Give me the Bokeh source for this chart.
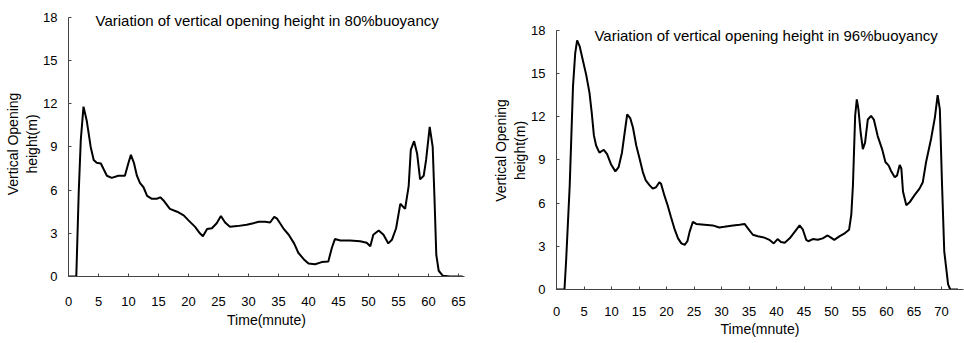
from bokeh.plotting import figure
from bokeh.layouts import row
from bokeh.models import Range1d, SingleIntervalTicker, Label
from bokeh.embed import file_html
from bokeh.resources import INLINE

# ---- data: 80% buoyancy ----
t80 = [0.0, 0.3, 1.3, 1.7, 2.05, 2.5, 3.05, 3.7, 4.2, 4.7, 5.4, 5.8, 6.4, 7.2, 8.3, 9.4,
       10.0, 10.4, 10.9, 11.4, 11.9, 12.5, 13.1, 13.9, 14.7, 15.3, 15.8, 16.9, 18.1, 19.2,
       20.0, 21.1, 21.9, 22.4, 23.1, 23.9, 24.7, 25.4, 26.1, 26.9, 28.1, 29.7, 30.8, 31.7,
       32.8, 33.6, 34.3, 34.8, 35.8, 36.7, 37.6, 38.3, 39.2, 40.0, 41.1, 42.2, 43.3, 43.9,
       44.4, 45.3, 46.9, 48.6, 49.7, 50.3, 50.8, 51.7, 52.5, 53.3, 53.9, 54.6, 55.3, 56.1,
       56.7, 57.05, 57.6, 58.1, 58.6, 59.2, 59.6, 60.2, 60.7, 61.0, 61.3, 61.7, 62.4, 63.6, 65.7]
h80 = [0.0, 0.0, 0.0, 5.8, 9.5, 11.8, 10.8, 9.0, 8.1, 7.9, 7.85, 7.5, 7.0, 6.85, 7.0, 7.0,
       7.9, 8.45, 7.9, 7.0, 6.5, 6.2, 5.6, 5.4, 5.4, 5.5, 5.3, 4.7, 4.5, 4.25,
       3.9, 3.45, 3.0, 2.8, 3.3, 3.35, 3.7, 4.2, 3.75, 3.45, 3.5, 3.6, 3.7, 3.8,
       3.8, 3.75, 4.15, 4.0, 3.35, 2.9, 2.3, 1.65, 1.2, 0.9, 0.85, 1.0, 1.05, 2.0,
       2.6, 2.5, 2.5, 2.45, 2.35, 2.1, 2.9, 3.2, 2.9, 2.3, 2.55, 3.35, 5.05, 4.7,
       6.3, 8.8, 9.4, 8.55, 6.75, 7.0, 8.1, 10.4, 9.0, 5.4, 1.5, 0.4, 0.05, 0.0, 0.0]

# ---- data: 96% buoyancy ----
t96 = [0.0, 0.2, 1.45, 1.75, 2.4, 3.0, 3.4, 3.75, 4.2, 4.8, 5.4, 6.0, 6.4, 6.8, 7.2, 7.8,
       8.6, 9.2, 9.9, 10.7, 11.3, 11.9, 12.4, 12.85, 13.4, 13.9, 14.5, 15.1, 15.7, 16.2,
       16.9, 17.5, 18.1, 18.7, 19.0, 19.6, 20.2, 20.8, 21.5, 22.1, 22.7, 23.3, 23.8, 24.2,
       24.8, 25.4, 26.9, 28.4, 29.6, 30.5, 32.1, 33.3, 34.2, 34.8, 35.7, 36.6, 37.8, 38.7,
       39.5, 40.2, 40.8, 41.5, 42.4, 43.3, 44.2, 44.8, 45.4, 45.8, 46.6, 47.5, 48.4, 49.3,
       49.9, 50.5, 51.5, 52.4, 53.2, 53.6, 53.9, 54.3, 54.6, 54.9, 55.3, 55.7, 56.1, 56.6,
       57.2, 57.7, 58.4, 59.2, 59.8, 60.4, 60.8, 61.5, 61.9, 62.4, 62.7, 63.0, 63.6, 64.2,
       65.1, 66.0, 66.6, 67.2, 68.1, 68.8, 69.3, 69.7, 70.1, 70.5, 71.2, 71.6, 72.4, 73.0]
h96 = [0.0, 0.0, 0.0, 2.0, 7.2, 14.1, 16.4, 17.3, 16.9, 15.9, 14.9, 13.65, 12.3, 10.7, 10.0, 9.5,
       9.7, 9.4, 8.7, 8.2, 8.5, 9.5, 10.9, 12.15, 11.9, 11.25, 10.0, 9.1, 8.15, 7.6,
       7.25, 7.0, 7.1, 7.45, 7.35, 6.55, 5.85, 5.05, 4.15, 3.55, 3.2, 3.1, 3.35, 4.0,
       4.7, 4.55, 4.5, 4.45, 4.3, 4.35, 4.45, 4.5, 4.55, 4.25, 3.8, 3.7, 3.6, 3.45,
       3.2, 3.5, 3.3, 3.25, 3.55, 4.0, 4.45, 4.15, 3.45, 3.35, 3.5, 3.45, 3.55, 3.75,
       3.6, 3.45, 3.7, 3.9, 4.15, 5.2, 7.25, 12.05, 13.2, 12.5, 10.9, 9.75, 10.2, 11.8,
       12.05, 11.8, 10.65, 9.75, 8.85, 8.6, 8.25, 7.8, 7.9, 8.65, 8.4, 6.8, 5.85, 6.05,
       6.55, 7.0, 7.45, 8.85, 10.45, 11.95, 13.5, 12.5, 7.25, 2.65, 0.35, 0.0, 0.0, 0.0]

title80 = "Variation of vertical opening height in 80%buoyancy"
title96 = "Variation of vertical opening height in 96%buoyancy"
xlabel = "Time(mnute)"
ylabel = "Vertical Opening\nheight(m)"

FONT = "Liberation Sans"


def make(t, h, title, xmax, ymax, width, height, br, x_std, x_lab_std, title_xy):
    p = figure(width=width, height=height, output_backend="svg", toolbar_location=None,
               x_range=Range1d(0, xmax), y_range=Range1d(0, ymax),
               min_border_left=68, min_border_right=br, min_border_top=11,
               min_border_bottom=51)
    p.outline_line_color = None
    p.grid.visible = False
    p.background_fill_color = "white"
    p.border_fill_color = "white"
    p.line(t, h, line_color="black", line_width=2)

    p.xaxis.ticker = SingleIntervalTicker(interval=5)
    p.yaxis.ticker = SingleIntervalTicker(interval=3)
    p.yaxis.bounds = (0, 18)
    for ax in (p.xaxis, p.yaxis):
        ax.minor_tick_line_color = None
        ax.major_tick_in = 3
        ax.major_tick_out = 0
        ax.axis_line_color = "#444444"
        ax.major_tick_line_color = "#444444"
        ax.major_label_text_font = FONT
        ax.major_label_text_font_size = "13px"
        ax.major_label_text_color = "black"
        ax.axis_label_text_font = FONT
        ax.axis_label_text_font_size = "14px"
        ax.axis_label_text_font_style = "normal"
        ax.axis_label_text_color = "black"
    p.xaxis.axis_label = xlabel
    p.yaxis.axis_label = ylabel
    p.xaxis.major_label_standoff = x_std
    p.xaxis.axis_label_standoff = x_lab_std
    p.yaxis.major_label_standoff = 7
    p.yaxis.axis_label_standoff = 0

    lab = Label(x=title_xy[0], y=title_xy[1], text=title, text_font=FONT,
                text_font_size="15px", text_baseline="middle", text_color="black")
    p.add_layout(lab)
    return p


# left: frame x 68..464 (6 px/min), y 11..279 ; right: frame x 556..963 (5.5 px/min), y 11..292
p1 = make(t80, h80, title80, 66, 18.41, 488, 330, 24, 16, 3, (4.5, 17.8))
p2 = make(t96, h96, title96, 74, 19.30, 476, 343, 1, 13, 2, (6.9, 17.66))

layout = row(p1, p2)
open("out.html", "w").write(file_html(layout, INLINE))
